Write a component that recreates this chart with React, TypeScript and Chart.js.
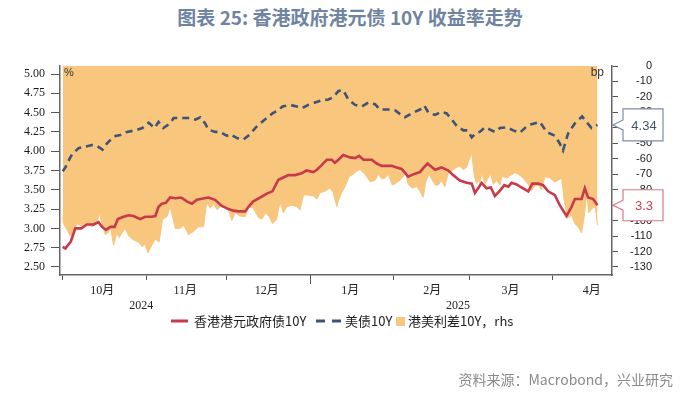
import React, { useEffect, useRef } from 'react';
import { Chart, registerables } from 'chart.js';

Chart.register(...registerables);

// ---- Data (x = days since 2024-10-01) ----
const hkDays = [0, 1.0, 3.0, 4.7, 6.9, 9.0, 11.5, 13.3, 14.6, 16.1, 17.7, 19.3, 20.5, 22.6, 24.5, 26.3, 28.8, 30.6, 33.1, 34.4, 35.6, 36.8, 38.3, 39.9, 41.8, 44.0, 46.1, 48.0, 49.8, 51.1, 54.1, 56.6, 59.1, 61.6, 63.4, 65.3, 67.8, 69.0, 70.8, 73.3, 75.8, 77.9, 80.1, 82.0, 83.8, 86.3, 88.5, 90.6, 93.1, 94.4, 96.2, 98.1, 99.9, 101.1, 102.4, 104.2, 106.7, 108.6, 110.1, 111.7, 114.8, 116.6, 118.5, 122.2, 124.0, 125.9, 128.3, 130.2, 132.7, 133.9, 135.5, 138.3, 140.7, 143.2, 145.0, 147.5, 150.0, 151.9, 153.1, 154.3, 155.6, 157.4, 159.0, 160.5, 162.4, 164.0, 165.5, 166.7, 168.6, 170.4, 172.9, 174.4, 176.6, 178.4, 180.3, 182.8, 184.6, 187.1, 189.0, 190.2, 192.7, 193.9, 195.1, 197.0, 198.6];
const hkYield = [2.76, 2.74, 2.83, 3.00, 3.00, 3.05, 3.05, 3.08, 3.02, 2.98, 3.02, 3.02, 3.12, 3.15, 3.17, 3.16, 3.12, 3.15, 3.15, 3.16, 3.28, 3.32, 3.33, 3.40, 3.39, 3.40, 3.35, 3.32, 3.37, 3.38, 3.40, 3.37, 3.29, 3.25, 3.23, 3.22, 3.22, 3.28, 3.35, 3.40, 3.45, 3.48, 3.63, 3.66, 3.69, 3.69, 3.71, 3.75, 3.73, 3.76, 3.82, 3.89, 3.89, 3.85, 3.89, 3.95, 3.92, 3.91, 3.94, 3.89, 3.89, 3.84, 3.81, 3.81, 3.79, 3.77, 3.67, 3.70, 3.73, 3.78, 3.84, 3.76, 3.79, 3.75, 3.69, 3.62, 3.59, 3.58, 3.46, 3.52, 3.59, 3.52, 3.53, 3.42, 3.49, 3.56, 3.54, 3.59, 3.57, 3.53, 3.48, 3.58, 3.58, 3.56, 3.48, 3.43, 3.30, 3.16, 3.28, 3.38, 3.38, 3.52, 3.40, 3.38, 3.30];

const usDays = [0, 1.0, 2.4, 3.5, 5.9, 8.4, 10.9, 12.7, 14.8, 16.4, 18.9, 21.4, 23.9, 26.9, 29.6, 31.9, 34.1, 35.6, 37.4, 39.9, 41.2, 44.3, 46.7, 49.2, 51.1, 52.9, 54.1, 56.6, 58.5, 61.0, 62.2, 64.7, 67.1, 69.6, 71.5, 74.0, 75.8, 77.9, 80.1, 81.6, 84.5, 86.9, 89.0, 91.2, 93.7, 96.2, 98.7, 100.5, 102.4, 104.2, 106.1, 108.6, 111.1, 113.5, 116.0, 117.8, 120.9, 123.4, 125.3, 127.1, 130.2, 132.7, 134.3, 135.8, 138.3, 140.5, 142.6, 144.5, 146.3, 148.8, 150.4, 151.9, 153.7, 154.9, 156.8, 158.7, 160.5, 162.4, 164.9, 167.3, 169.8, 172.3, 174.1, 177.2, 179.7, 182.8, 184.6, 185.8, 187.7, 190.2, 192.9, 194.5, 196.4, 198.6];
const usYield = [3.74, 3.79, 3.89, 3.96, 4.04, 4.06, 4.08, 4.07, 4.02, 4.10, 4.19, 4.21, 4.25, 4.27, 4.30, 4.37, 4.30, 4.38, 4.30, 4.36, 4.43, 4.43, 4.43, 4.41, 4.44, 4.36, 4.28, 4.25, 4.25, 4.20, 4.22, 4.17, 4.15, 4.22, 4.30, 4.38, 4.43, 4.49, 4.53, 4.58, 4.60, 4.58, 4.56, 4.60, 4.63, 4.66, 4.67, 4.70, 4.78, 4.79, 4.67, 4.60, 4.58, 4.63, 4.61, 4.54, 4.54, 4.53, 4.48, 4.44, 4.50, 4.54, 4.59, 4.50, 4.47, 4.51, 4.49, 4.41, 4.33, 4.27, 4.27, 4.18, 4.24, 4.25, 4.31, 4.28, 4.25, 4.30, 4.31, 4.27, 4.24, 4.32, 4.35, 4.38, 4.25, 4.20, 4.10, 4.01, 4.23, 4.36, 4.45, 4.38, 4.30, 4.34];

const spreadDays = [0, 0.3, 1.6, 2.8, 4.0, 5.3, 7.2, 9.0, 10.9, 12.7, 13.6, 14.6, 15.8, 16.8, 17.7, 18.9, 20.1, 21.0, 22.0, 23.2, 24.5, 26.3, 28.2, 29.6, 30.4, 31.7, 33.1, 34.4, 35.8, 37.1, 38.7, 39.9, 40.8, 41.8, 43.6, 44.9, 46.7, 48.6, 50.4, 52.3, 53.5, 54.8, 56.0, 57.3, 59.1, 60.3, 61.6, 62.8, 64.0, 65.9, 67.8, 69.0, 70.8, 72.7, 74.0, 75.4, 76.7, 77.9, 79.5, 80.7, 82.0, 83.2, 85.1, 86.9, 88.2, 89.4, 91.2, 93.1, 94.4, 95.6, 97.4, 99.3, 100.5, 101.8, 102.4, 103.6, 104.9, 106.4, 107.9, 109.2, 110.4, 112.3, 114.2, 116.0, 117.2, 118.5, 119.7, 120.9, 122.4, 124.0, 125.9, 127.4, 128.3, 129.8, 131.5, 132.7, 133.9, 134.8, 136.0, 137.0, 138.3, 139.5, 140.7, 142.0, 143.2, 144.4, 146.3, 147.5, 148.8, 150.0, 150.9, 151.9, 152.9, 153.7, 154.3, 154.9, 155.6, 156.8, 158.0, 159.0, 159.9, 161.1, 162.4, 163.2, 164.9, 166.1, 168.0, 169.2, 171.0, 172.9, 174.1, 175.1, 176.6, 177.8, 179.1, 180.9, 182.8, 184.0, 185.3, 186.2, 187.5, 189.0, 190.2, 191.4, 192.7, 193.7, 194.6, 195.4, 196.6, 197.8, 198.6];
const spreadBp = [-97.5, -102, -106, -110, -108, -102, -103.5, -102, -104, -102, -95, -102, -109, -108, -104, -116, -108, -111, -108, -105, -110, -112.5, -114, -117, -115, -121, -116, -112, -114, -99, -97.5, -91, -97.5, -105, -105, -103, -109, -107, -104, -104, -88, -92, -89, -93, -90, -92, -93.5, -100, -95, -97, -97.5, -91, -92, -98, -99, -95, -97.5, -102, -99, -88, -95, -91, -90, -91, -93, -83.5, -83.5, -84, -86, -82, -81, -79, -82, -91, -87, -82, -78, -71.5, -70, -68, -67, -70, -75, -74, -70, -73, -72.5, -70, -77, -75.5, -73, -69, -76.5, -79, -78, -81, -85, -75, -70, -73, -77, -77, -74, -78, -69, -68, -65.5, -65, -67, -65.5, -61, -56.5, -71.5, -76, -74, -76, -69, -76, -72.5, -70, -76.5, -74, -77, -71.5, -72.5, -71, -69, -70, -72.5, -76.5, -81, -78, -77, -80, -71.5, -72.5, -75, -74, -72.5, -86.5, -98.5, -96.5, -102, -104, -108, -97.5, -82, -95, -92, -91, -103];

const monthLabels = ['10月', '11月', '12月', '1月', '2月', '3月', '4月'];
const monthStartDays = [0, 31, 61, 92, 123, 151, 182];
const monthLabelDays = [14.7, 45.5, 75.8, 106.8, 137.2, 166.3, 196.5];
const yearLabels = ['2024', '2025'];
const yearLabelDays = [29.2, 146.8];
const yearBoundaryDay = 92;
const leftTicks = [2.5, 2.75, 3.0, 3.25, 3.5, 3.75, 4.0, 4.25, 4.5, 4.75, 5.0];
const rightTicks = [0, -10, -20, -30, -40, -50, -60, -70, -80, -90, -100, -110, -120, -130];

const seriesNames = ['香港港元政府债10Y', '美债10Y', '港美利差10Y，rhs'];
const titleText = '图表 25: 香港政府港元债 10Y 收益率走势';
const sourceText = '资料来源：Macrobond，兴业研究';

const RED = '#c8394b';
const BLUE = '#3d5478';
const ORANGE = '#f8c67c';

function drawCallout(ctx: CanvasRenderingContext2D, tipX: number, yc: number, boxL: number, boxR: number, h: number, border: string, color: string, text: string) {
  const top = yc - h / 2;
  const bot = yc + h / 2;
  ctx.beginPath();
  ctx.moveTo(boxL, top);
  ctx.lineTo(boxR, top);
  ctx.lineTo(boxR, bot);
  ctx.lineTo(boxL, bot);
  ctx.lineTo(boxL, yc + 5);
  ctx.lineTo(tipX, yc);
  ctx.lineTo(boxL, yc - 5);
  ctx.closePath();
  ctx.fillStyle = '#ffffff';
  ctx.fill();
  ctx.strokeStyle = border;
  ctx.lineWidth = 1.2;
  ctx.stroke();
  ctx.fillStyle = color;
  ctx.font = "13px 'Liberation Sans', 'DejaVu Sans', sans-serif";
  ctx.textAlign = 'center';
  ctx.textBaseline = 'middle';
  ctx.fillText(text, (boxL + boxR) / 2 + 1, yc + 1);
}

const decoPlugin = {
  id: 'deco',
  afterDraw(chart: any) {
    const ctx: CanvasRenderingContext2D = chart.ctx;
    const xs = chart.scales.x;
    const ys = chart.scales.y;
    const ca = chart.chartArea;
    ctx.save();
    // long year-boundary tick
    const xb = xs.getPixelForValue(yearBoundaryDay);
    ctx.strokeStyle = '#555';
    ctx.lineWidth = 1;
    ctx.beginPath();
    ctx.moveTo(Math.round(xb) + 0.5, ca.bottom);
    ctx.lineTo(Math.round(xb) + 0.5, ca.bottom + 9);
    ctx.stroke();
    // month labels
    ctx.fillStyle = '#222';
    ctx.textAlign = 'center';
    ctx.textBaseline = 'middle';
    ctx.font = "12px 'Liberation Serif', 'Noto Sans CJK SC', serif";
    monthLabels.forEach((m, i) => {
      ctx.fillText(m, xs.getPixelForValue(monthLabelDays[i]), ca.bottom + 16);
    });
    yearLabels.forEach((y, i) => {
      ctx.fillText(y, xs.getPixelForValue(yearLabelDays[i]), ca.bottom + 31);
    });
    // unit labels
    ctx.fillStyle = '#333';
    ctx.font = "11px 'Liberation Sans', 'DejaVu Sans', sans-serif";
    ctx.textAlign = 'left';
    ctx.fillText('%', ca.left + 4, ca.top + 7);
    ctx.font = "12px 'Liberation Sans', 'DejaVu Sans', sans-serif";
    ctx.textAlign = 'right';
    ctx.fillText('bp', ca.right - 8, ca.top + 7);
    // callouts
    const usLast = usYield[usYield.length - 1];
    const hkLast = hkYield[hkYield.length - 1];
    const tipX = ca.right + 1;
    drawCallout(ctx, tipX, ys.getPixelForValue(usLast), tipX + 10, tipX + 50, 32, '#7d8ca8', '#44546f', String(usLast));
    drawCallout(ctx, tipX, ys.getPixelForValue(hkLast), tipX + 10, tipX + 50, 31, '#d97786', '#d0404f', String(hkLast));
    ctx.restore();
  },
};

export default function App() {
  const canvasRef = useRef<HTMLCanvasElement | null>(null);

  useEffect(() => {
    if (!canvasRef.current) return;
    const toXY = (xs: number[], ys: number[]) => xs.map((x, i) => ({ x, y: ys[i] }));
    const chart = new Chart(canvasRef.current, {
      type: 'line',
      data: {
        datasets: [
          {
            label: seriesNames[0],
            data: toXY(hkDays, hkYield),
            yAxisID: 'y',
            borderColor: RED,
            borderWidth: 2.6,
            pointRadius: 0,
            tension: 0,
            fill: false,
          },
          {
            label: seriesNames[1],
            data: toXY(usDays, usYield),
            yAxisID: 'y',
            borderColor: BLUE,
            borderWidth: 2.6,
            borderDash: [7, 5],
            pointRadius: 0,
            tension: 0,
            fill: false,
          },
          {
            label: seriesNames[2],
            data: toXY(spreadDays, spreadBp),
            yAxisID: 'y1',
            borderColor: ORANGE,
            borderWidth: 1,
            backgroundColor: ORANGE,
            pointRadius: 0,
            tension: 0,
            fill: 'origin',
          },
        ],
      },
      options: {
        animation: false,
        responsive: false,
        maintainAspectRatio: false,
        layout: { padding: { top: 66, left: 0, right: 48, bottom: 100 } },
        plugins: {
          legend: { display: false },
          tooltip: { enabled: false },
          title: { display: false },
        },
        scales: {
          x: {
            type: 'linear',
            min: -1,
            max: 204,
            afterBuildTicks: (s: any) => {
              s.ticks = monthStartDays.map((v) => ({ value: v }));
            },
            afterFit: (s: any) => {
              s.height = 20;
            },
            ticks: { callback: () => '', display: true, autoSkip: false },
            grid: { drawOnChartArea: false, drawTicks: true, tickLength: 5, color: '#555', lineWidth: 1 },
            border: { display: true, color: '#666', width: 1.5 },
          },
          y: {
            type: 'linear',
            position: 'left',
            min: 2.396,
            max: 5.104,
            afterBuildTicks: (s: any) => {
              s.ticks = leftTicks.map((v) => ({ value: v }));
            },
            afterFit: (s: any) => {
              s.width = 60;
            },
            ticks: {
              autoSkip: false,
              callback: (v: any) => Number(v).toFixed(2),
              color: '#1a1a1a',
              padding: 6,
              font: { family: "'Liberation Serif', serif", size: 12 },
            },
            grid: { drawOnChartArea: false, drawTicks: true, tickLength: 9, color: '#555', lineWidth: 1 },
            border: { display: true, color: '#666', width: 1.5 },
          },
          y1: {
            type: 'linear',
            position: 'right',
            min: -135.2,
            max: 0,
            afterBuildTicks: (s: any) => {
              s.ticks = rightTicks.map((v) => ({ value: v }));
            },
            afterFit: (s: any) => {
              s.width = 40;
            },
            ticks: {
              autoSkip: false,
              callback: (v: any) => String(v),
              color: '#1a1a1a',
              padding: 6,
              crossAlign: 'far',
              font: { family: "'Liberation Sans', sans-serif", size: 11 },
            },
            grid: { drawOnChartArea: false, drawTicks: true, tickLength: 6, color: '#555', lineWidth: 1 },
            border: { display: true, color: '#666', width: 1.5 },
          },
        },
      } as any,
      plugins: [decoPlugin],
    });
    return () => chart.destroy();
  }, []);

  const legendText: React.CSSProperties = {
    position: 'absolute',
    top: 0,
    fontFamily: "'Noto Sans CJK SC', sans-serif",
    fontSize: 13,
    color: '#222',
    whiteSpace: 'nowrap',
    lineHeight: '20px',
  };

  return (
    <div style={{ position: 'absolute', left: 0, top: 0, width: 700, height: 395, background: '#fff', overflow: 'hidden' }}>
      <div
        style={{
          position: 'absolute',
          left: 0,
          top: 4,
          width: 700,
          textAlign: 'center',
          fontFamily: "'Noto Sans CJK SC', sans-serif",
          fontWeight: 700,
          fontSize: 19,
          lineHeight: '26px',
          color: '#6f84a3',
          whiteSpace: 'nowrap',
        }}
      >
        {titleText}
      </div>
      <canvas ref={canvasRef} width={700} height={395} style={{ position: 'absolute', left: 0, top: 0, width: 700, height: 395 }} />
      <div style={{ position: 'absolute', left: 0, top: 311, width: 700, height: 20 }}>
        <svg width={17} height={4} style={{ position: 'absolute', left: 171, top: 8 }}>
          <line x1={0} y1={2} x2={17} y2={2} stroke={RED} strokeWidth={3} />
        </svg>
        <span style={{ ...legendText, left: 194 }}>{seriesNames[0]}</span>
        <svg width={25} height={4} style={{ position: 'absolute', left: 316, top: 8 }}>
          <line x1={0} y1={2} x2={25} y2={2} stroke={BLUE} strokeWidth={3} strokeDasharray="9 7" />
        </svg>
        <span style={{ ...legendText, left: 345 }}>{seriesNames[1]}</span>
        <span style={{ position: 'absolute', left: 396, top: 6, width: 9, height: 9, background: ORANGE }} />
        <span style={{ ...legendText, left: 408 }}>{seriesNames[2]}</span>
      </div>
      <div
        style={{
          position: 'absolute',
          right: 27,
          top: 370,
          fontFamily: "'Noto Sans CJK SC', sans-serif",
          fontSize: 14,
          lineHeight: '18px',
          color: '#8a8a8a',
          whiteSpace: 'nowrap',
        }}
      >
        {sourceText}
      </div>
    </div>
  );
}
